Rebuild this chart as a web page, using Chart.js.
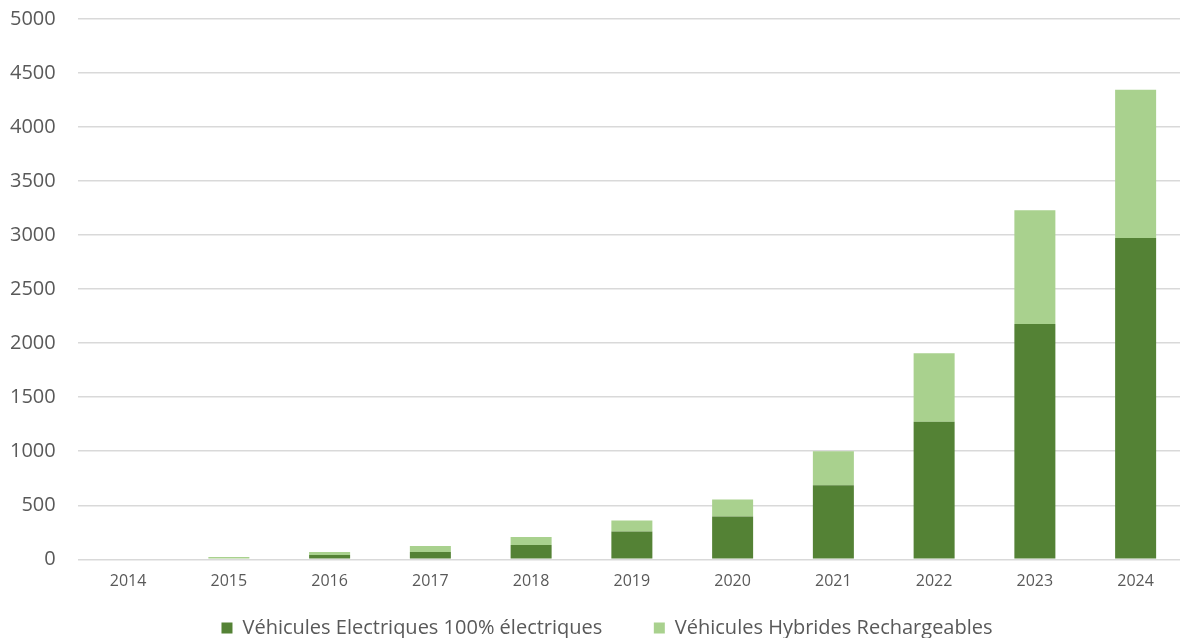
<!DOCTYPE html>
<html>
<head>
<meta charset="utf-8">
<script src="https://cdn.jsdelivr.net/npm/chart.js@4"></script>
<style>
  html, body { margin: 0; padding: 0; background: #fff; overflow: hidden; }
  #wrap { width: 1186px; height: 653px; margin-top: -15px; }
</style>
</head>
<body>
<div id="wrap"><canvas id="graphique"></canvas></div>
<script>
// données
const annees = ["2014", "2015", "2016", "2017", "2018", "2019", "2020", "2021", "2022", "2023", "2024"];
const electriques = [0, 0, 40, 67, 132, 258, 397, 686, 1273, 2177, 2973];
const hybrides = [0, 21, 27, 56, 74, 102, 156, 313, 634, 1052, 1372];
const graduations = [0, 500, 1000, 1500, 2000, 2500, 3000, 3500, 4000, 4500, 5000];

const gris = "#595959";
const police = "'Open Sans', 'DejaVu Sans', sans-serif";

const ctx = document.getElementById("graphique").getContext("2d");

// décale la légende vers la droite (centrée sur le graphique d'origine)
const decalageLegende = {
    id: "decalageLegende",
    afterLayout(chart) {
        if (chart.legend) {
            chart.legend.left += 20;
            chart.legend.right += 20;
        }
    }
};

new Chart(ctx, {
    type: "bar",
    data: {
        labels: annees,
        datasets: [{
            label: "Véhicules Electriques 100% électriques",
            data: electriques,
            backgroundColor: "#548235",
            barPercentage: 0.407,
            categoryPercentage: 1
        }, {
            label: "Véhicules Hybrides Rechargeables",
            data: hybrides,
            backgroundColor: "#A9D18E",
            barPercentage: 0.407,
            categoryPercentage: 1
        }]
    },
    options: {
        responsive: true,
        maintainAspectRatio: false,
        animation: false,
        layout: { padding: { top: 0, left: -12, right: 0, bottom: -10 } },
        plugins: {
            tooltip: { enabled: false },
            legend: {
                position: "bottom",
                labels: {
                    color: gris,
                    font: { family: police, size: 20 },
                    boxWidth: 11,
                    boxHeight: 11,
                    padding: 21.5,
                    // un peu plus d'espace entre les deux entrées, comme dans Excel
                    generateLabels: (chart) => {
                        const items = Chart.defaults.plugins.legend.labels.generateLabels(chart);
                        items.forEach((it, i) => {
                            it.lineWidth = 0;
                            if (i < items.length - 1) it.text = it.text + "\u2003\u2002";
                        });
                        return items;
                    }
                }
            }
        },
        scales: {
            x: {
                stacked: true,
                grid: { display: false },
                border: { display: false },
                ticks: { color: gris, font: { family: police, size: 16 }, padding: 5 }
            },
            y: {
                stacked: true,
                min: 0,
                max: 5000,
                afterBuildTicks: (axis) => { axis.ticks = graduations.map(v => ({ value: v })); },
                grid: { color: "#d9d9d9", lineWidth: 1.5, drawTicks: false },
                border: { display: false },
                ticks: {
                    color: gris,
                    font: { family: police, size: 20 },
                    padding: 22,
                    callback: (v) => String(v)
                }
            }
        }
    },
    plugins: [decalageLegende]
});
</script>
</body>
</html>
